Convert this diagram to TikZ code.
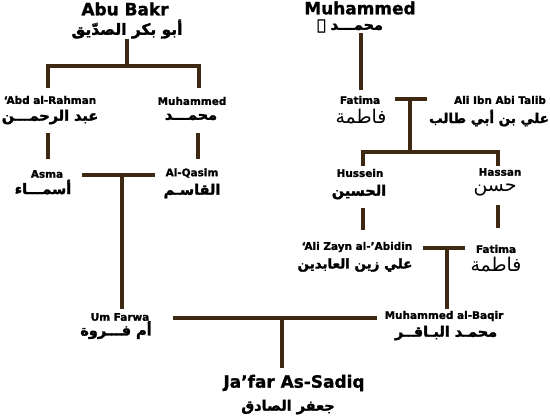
\documentclass[tikz,border=0pt]{standalone}
\usepackage{fontspec}
\TeXXeTstate=1
\newfontfamily\latf{DejaVu Sans}[BoldFont={DejaVu Sans Bold}, BoldFeatures={FakeBold=1.2}]
\newfontfamily\arf[Script=Arabic]{DejaVu Sans}[BoldFont={DejaVu Sans Bold}, BoldFeatures={FakeBold=2}]
\newcommand\RTL[1]{\beginR #1\endR}
\definecolor{lbrown}{HTML}{3F2812}
\tikzset{
  lab/.style={font=\latf\bfseries\fontsize{10.5}{12}\selectfont, inner sep=0pt},
  head/.style={font=\latf\bfseries\fontsize{17}{20}\selectfont, inner sep=0pt},
  ar/.style={font=\arf\bfseries\fontsize{14.5}{16}\selectfont, inner sep=0pt},
  arbig/.style={font=\arf\bfseries\fontsize{13.5}{16}\selectfont, inner sep=0pt},
  arn/.style={font=\arf\fontsize{19}{21}\selectfont, inner sep=0pt},
  ln/.style={draw=lbrown, line width=4bp, line join=miter}
}
\begin{document}
\begin{tikzpicture}[x=1bp,y=-1bp]
\useasboundingbox (0,0) rectangle (550,416);
% ---------- names ----------
\node[head] (abubakr) at (125,9) {Abu Bakr};
\node[ar, font=\arf\bfseries\fontsize{15.5}{17}\selectfont] (abubakrA) at (127,29) {\RTL{أبو بكر الصدّيق}};
\node[lab] (abd) at (50,100) {‘Abd al-Rahman};
\node[ar] (abdA) at (50,117) {\RTL{عبد الرحمـــن}};
\node[lab] (muh) at (192,101) {Muhammed};
\node[ar] (muhA) at (191,117) {\RTL{محمـــد}};
\node[lab] (asma) at (47,174) {Asma};
\node[ar] (asmaA) at (43,187) {\RTL{أسمـــاء}};
\node[lab] (qasim) at (192,173) {Al-Qasim};
\node[ar] (qasimA) at (192,191) {\RTL{القاسـم}};
\node[lab] (um) at (120,317) {Um Farwa};
\node[ar] (umA) at (116,330) {\RTL{أم فـــروة}};
\node[head] (jafar) at (294,383) {Ja’far As-Sadiq};
\node[ar] (jafarA) at (288,407) {\RTL{جعفر الصادق}};
\node[lab] (baqir) at (444,316) {Muhammed al-Baqir};
\node[ar] (baqirA) at (446,333) {\RTL{محمـد البـاقــر}};
\node[head] (prophet) at (360,8) {Muhammed};
\node[ar] (prophetA) at (350,26) {\RTL{محمـــد ﷺ}};
\node[lab] (fat) at (360,100) {Fatima};
\node[arn] (fatA) at (361,117) {\RTL{فاطمة}};
\node[lab] (ali) at (500,100) {Ali Ibn Abi Talib};
\node[arbig] (aliA) at (489,118) {\RTL{علي بن أبي طالب}};
\node[lab] (hus) at (360,173) {Hussein};
\node[ar] (husA) at (359,192) {\RTL{الحسين}};
\node[lab] (has) at (500,172) {Hassan};
\node[arn] (hasA) at (495,190) {\RTL{حسن}};
\node[lab] (zayn) at (357,247) {‘Ali Zayn al-’Abidin};
\node[ar, font=\arf\bfseries\fontsize{13.5}{16}\selectfont] (zaynA) at (355,265) {\RTL{علي زين العابدين}};
\node[lab] (fat2) at (496,249) {Fatima};
\node[arn] (fat2A) at (496,265) {\RTL{فاطمة}};
% ---------- junction points ----------
\coordinate (abT) at (127,39);   \coordinate (abJ) at (127,66);
\coordinate (abdT) at (48,88);   \coordinate (muhT) at (199,88);
\coordinate (abdB) at (48,133);  \coordinate (asmaT) at (48,159);
\coordinate (muhB) at (198,133); \coordinate (qasimT) at (198,159);
\coordinate (aqL) at (82,175);   \coordinate (aqR) at (155,175);
\coordinate (aqJ) at (122,175);  \coordinate (umT) at (122,309);
\coordinate (ubL) at (173,318);  \coordinate (ubR) at (377,318);
\coordinate (ubJ) at (282,318);  \coordinate (jafT) at (282,368);
\coordinate (prB) at (361,33);   \coordinate (fatT) at (361,90);
\coordinate (faL) at (395,99);   \coordinate (faR) at (427,99);
\coordinate (faJ) at (410,99);   \coordinate (faD) at (410,152);
\coordinate (husT) at (363,166); \coordinate (hasT) at (498,166);
\coordinate (husB) at (363,208); \coordinate (zaynT) at (363,230);
\coordinate (hasB) at (498,205); \coordinate (fat2T) at (498,228);
\coordinate (zfL) at (423,248);  \coordinate (zfR) at (465,248);
\coordinate (zfJ) at (447,248);  \coordinate (baqT) at (447,309);
% ---------- connectors ----------
\draw[ln] (abT) -- (abJ);
\draw[ln] (abdT) -- (abdT|-abJ) -- (muhT|-abJ) -- (muhT);
\draw[ln] (abdB) -- (asmaT);
\draw[ln] (muhB) -- (qasimT);
\draw[ln] (aqL) -- (aqR);
\draw[ln] (aqJ) -- (umT);
\draw[ln] (ubL) -- (ubR);
\draw[ln] (ubJ) -- (jafT);
\draw[ln] (prB) -- (fatT);
\draw[ln] (faL) -- (faR);
\draw[ln] (faJ) -- (faD);
\draw[ln] (husT) -- (husT|-faD) -- (hasT|-faD) -- (hasT);
\draw[ln] (husB) -- (zaynT);
\draw[ln] (hasB) -- (fat2T);
\draw[ln] (zfL) -- (zfR);
\draw[ln] (zfJ) -- (baqT);
\end{tikzpicture}
\end{document}
